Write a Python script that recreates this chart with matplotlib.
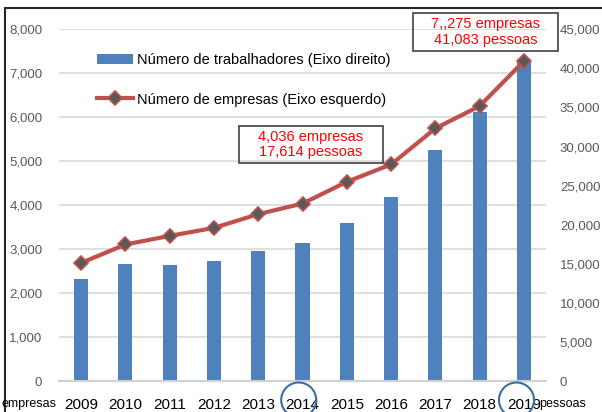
import numpy as np
import matplotlib
matplotlib.use('Agg')
import matplotlib.pyplot as plt
from matplotlib.patches import Patch, Rectangle, Ellipse
from matplotlib.lines import Line2D
import matplotlib.transforms as mtransforms
from matplotlib.ticker import StrMethodFormatter

# ---- data ----
years = ['2009', '2010', '2011', '2012', '2013', '2014', '2015', '2016', '2017', '2018', '2019']
trabalhadores = [12990, 15030, 14780, 15370, 16570, 17614, 20230, 23570, 29540, 34370, 41083]
empresas = [2686, 3105, 3301, 3483, 3795, 4036, 4530, 4926, 5745, 6253, 7275]
left_ticks = [0, 1000, 2000, 3000, 4000, 5000, 6000, 7000, 8000]
right_ticks = [0, 5000, 10000, 15000, 20000, 25000, 30000, 35000, 40000, 45000]
label_bars = 'Número de trabalhadores (Eixo direito)'
label_line = 'Número de empresas (Eixo esquerdo)'
ann1 = '4,036 empresas\n17,614 pessoas'
ann2 = '7,,275 empresas\n41,083 pessoas'

plt.rcParams['font.family'] = ['Liberation Sans', 'DejaVu Sans']

W, H = 602, 412
fig = plt.figure(figsize=(W / 100, H / 100), dpi=100)
rect = [59 / W, 1 - 381 / H, 487 / W, (381 - 29.3) / H]
ax_b = fig.add_axes(rect)
ax_t = ax_b.twinx()

x = np.arange(len(years))
bar_color = '#4F81BD'
line_color = '#C0504D'
ax_b.bar(x, trabalhadores, width=0.32, color=bar_color, zorder=2)
ax_b.set_ylim(0, 45000)
ax_b.set_xlim(-0.5, len(years) - 0.5)
ax_t.set_ylim(0, 8000)
ax_t.plot(x, empresas, color=line_color, lw=3, marker='D', ms=7.5,
          mfc='#595959', mec=line_color, mew=1.2, zorder=3)

# axes sides
ax_b.yaxis.tick_right()
ax_t.yaxis.tick_left()
ax_b.set_yticks(right_ticks)
ax_t.set_yticks(left_ticks)
ax_b.yaxis.set_major_formatter(StrMethodFormatter('{x:,.0f}'))
ax_t.yaxis.set_major_formatter(StrMethodFormatter('{x:,.0f}'))
ax_b.tick_params(axis='y', length=0, pad=10, labelsize=9.5, labelcolor='#595959')
ax_t.tick_params(axis='y', length=0, pad=12, labelsize=9.5, labelcolor='#595959')
ax_b.set_xticks(x, years)
ax_b.tick_params(axis='x', length=0, pad=12, labelsize=11, labelcolor='black')

for ax in (ax_b, ax_t):
    for s in ax.spines.values():
        s.set_visible(False)
ax_b.spines['bottom'].set_visible(True)
ax_b.spines['bottom'].set_color('#D0D0D0')
ax_b.spines['bottom'].set_linewidth(1.5)

# gridlines aligned with left axis, behind bars
blend = mtransforms.blended_transform_factory(ax_b.transAxes, ax_t.transData)
for v in left_ticks[1:]:
    ax_b.add_line(Line2D([0, 1], [v, v], transform=blend, color='#D9D9D9', lw=1.2, zorder=1))

# legend
handles = [Patch(facecolor=bar_color, edgecolor='none'),
           Line2D([], [], color=line_color, lw=3, marker='D', ms=7.5,
                  mfc='#595959', mec=line_color, mew=1.2)]
ax_t.legend(handles, [label_bars, label_line], loc='upper left',
            bbox_to_anchor=(97 / W, 1 - 53 / H), bbox_transform=fig.transFigure,
            frameon=False, fontsize=10.5, borderpad=0, borderaxespad=0,
            handlelength=2.5, handletextpad=0.25, labelspacing=1.75)

# annotation boxes
def ann_box(x0, y0, x1, y1, txt):
    fig.add_artist(Rectangle((x0 / W, 1 - y1 / H), (x1 - x0) / W, (y1 - y0) / H,
                             transform=fig.transFigure, fill=False, ec='#404040', lw=1.2))
    fig.text((x0 + x1) / 2 / W, 1 - (y0 + y1) / 2 / H, txt, ha='center', va='center',
             color='#FF0000', fontsize=10.5, linespacing=1.15)

ann_box(239, 125.7, 382.7, 163.3, ann1)
ann_box(412.7, 12.7, 558.3, 51, ann2)

# side unit labels
fig.text(2 / W, 1 - 404 / H, 'empresas', fontsize=9, va='center', ha='left')
fig.text(539 / W, 1 - 404 / H, 'pessoas', fontsize=9, va='center', ha='left')

# highlight circles
for cx in (298.7, 516.5):
    fig.add_artist(Ellipse((cx / W, 1 - 400 / H), 35 / W, 35 / H, transform=fig.transFigure,
                           fill=False, ec='#3A6EA5', lw=1.5))

# outer frame (partial)
fig.add_artist(Line2D([5 / W, 5 / W], [0, 1 - 8 / H], transform=fig.transFigure, color='#262626', lw=1.5))
fig.add_artist(Line2D([5 / W, 1], [1 - 8 / H, 1 - 8 / H], transform=fig.transFigure, color='#262626', lw=1.5))

fig.savefig('out.png', dpi=100)
